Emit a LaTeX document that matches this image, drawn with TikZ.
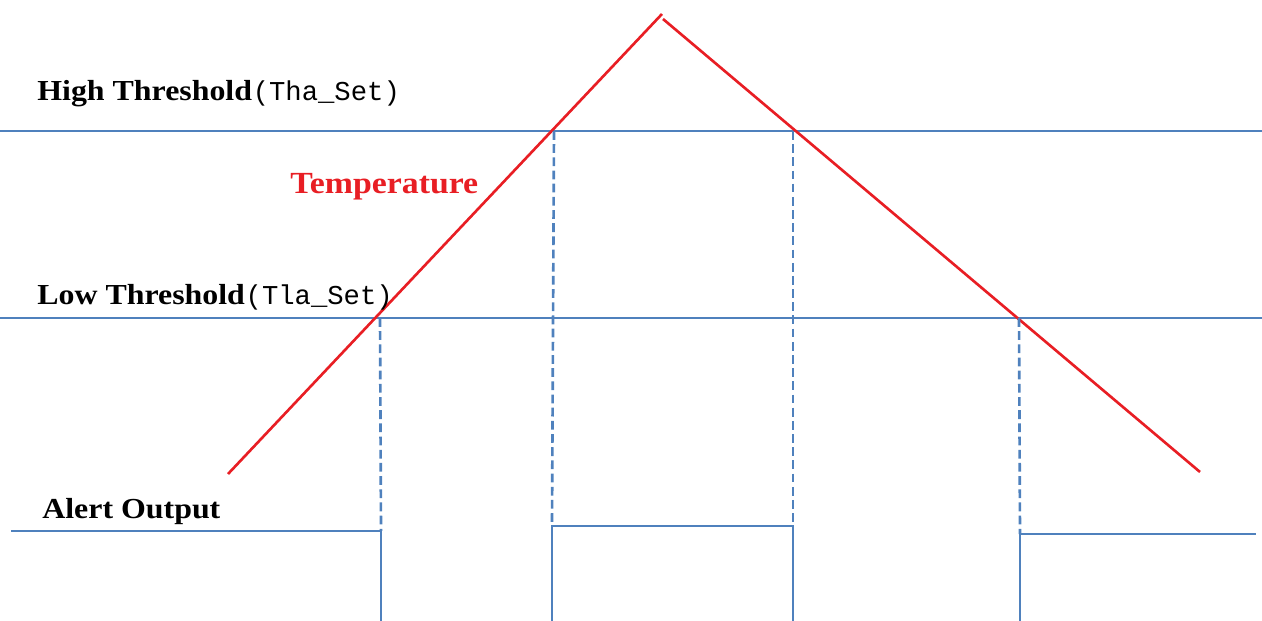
\documentclass[tikz,border=0pt]{standalone}
\usepackage{fontspec}
\setmainfont{Liberation Serif}
\setmonofont{Liberation Mono}
\newfontfamily\lblserif[FakeStretch=1.1]{Liberation Serif}
\usetikzlibrary{positioning}
\definecolor{lineblue}{RGB}{79,129,189}
\definecolor{tempred}{RGB}{232,30,36}

\begin{document}
\begin{tikzpicture}[
  x=0.02cm, y=-0.02cm,
  level/.style={draw=lineblue, line width=1.5pt},
  guide/.style={draw=lineblue, line width=1.5pt, dash pattern=on 5pt off 2.5pt},
  alert/.style={draw=lineblue, line width=1.5pt},
  temp/.style={draw=tempred, line width=1.5pt},
  lbl/.style={anchor=base west, inner sep=0pt, font=\lblserif\fontsize{16.5}{18}\selectfont\bfseries},
  mono/.style={font=\mdseries\fontsize{15.5}{18}\selectfont\ttfamily}
]
  \useasboundingbox (0,0) rectangle (1262,621);
  % Threshold levels
  \coordinate (hiL) at (0,131);
  \coordinate (hiR) at (1262,131);
  \coordinate (loL) at (0,318);
  \coordinate (loR) at (1262,318);
  \draw[level] (hiL) -- (hiR);
  \draw[level] (loL) -- (loR);
  % Temperature ramp
  \coordinate (tStart) at (228,474);
  \coordinate (tPeak)  at (662,14);
  \coordinate (tPeak2) at (663,19);
  \coordinate (tEnd)   at (1200,472);
  \draw[temp] (tStart) -- (tPeak);
  \draw[temp] (tPeak2) -- (tEnd);
  % Crossing points
  \coordinate (upLo) at (380,318);
  \coordinate (upHi) at (554,131);
  \coordinate (dnHi) at (793,131);
  \coordinate (dnLo) at (1019,318);
  % Alert output
  \coordinate (aStart) at (11,531);
  \coordinate (a1top) at (381,531);
  \coordinate (a1bot) at (381,621);
  \coordinate (a2bot) at (552,621);
  \coordinate (a2top) at (552,526);
  \coordinate (a3top) at (793,526);
  \coordinate (a3bot) at (793,621);
  \coordinate (a4bot) at (1020,621);
  \coordinate (a4top) at (1020,534);
  \coordinate (aEnd)  at (1256,534);
  \draw[alert] (aStart) -- (a1top) -- (a1bot);
  \draw[alert] (a2bot) -- (a2top) -- (a3top) -- (a3bot);
  \draw[alert] (a4bot) -- (a4top) -- (aEnd);
  % Guides
  \draw[guide] (upLo) -- (a1top);
  \draw[guide] (upHi) -- (a2top);
  \draw[guide] (dnHi) -- (a3top);
  \draw[guide] (dnLo) -- (a4top);
  % Labels
  \node[lbl] (hiLabel) at (37,101) {High Threshold};
  \node[lbl, mono, right=0pt of hiLabel.base east, anchor=base west] (hiSet) {(Tha\_Set)};
  \node[lbl] (loLabel) at (37,305) {Low Threshold};
  \node[lbl, mono, right=0pt of loLabel.base east, anchor=base west] (loSet) {(Tla\_Set)};
  \node[lbl, text=tempred, font=\lblserif\fontsize{17.5}{20}\selectfont\bfseries] (tempLabel) at (290,194) {Temperature};
  \node[lbl] (alertLabel) at (42,519) {Alert Output};
\end{tikzpicture}
\end{document}
